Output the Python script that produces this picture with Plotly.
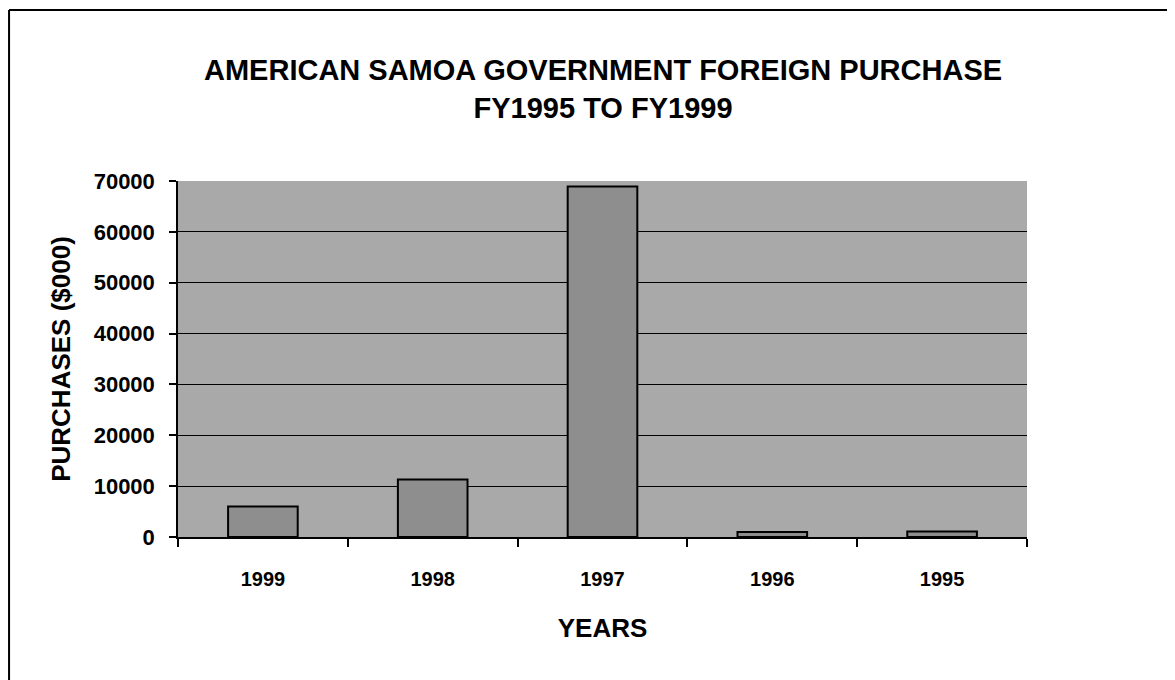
import plotly.graph_objects as go

years = ["1999", "1998", "1997", "1996", "1995"]
purchases = [6000, 11300, 68900, 1000, 1100]
y_ticks = [0, 10000, 20000, 30000, 40000, 50000, 60000, 70000]
title_line1 = "AMERICAN SAMOA GOVERNMENT FOREIGN PURCHASE"
title_line2 = "FY1995 TO FY1999"

FONT = "Liberation Sans, Arial, sans-serif"

fig = go.Figure(
    go.Bar(
        x=years,
        y=purchases,
        width=0.41,
        marker=dict(color="#8e8e8e", line=dict(color="black", width=2)),
    )
)

# page has 8px default body margin; compensate
fig.update_layout(
    width=1167,
    height=672,
    margin=dict(l=170, r=148, t=173, b=143),
    paper_bgcolor="white",
    plot_bgcolor="#a9a9a9",
    showlegend=False,
    font=dict(family=FONT, color="black"),
    annotations=[
        dict(text="<b>" + title_line1 + "<br>" + title_line2 + "</b>",
             xref="paper", yref="paper",
             x=0.5, y=1 + (181 - 89) / 356, xanchor="center", yanchor="middle",
             showarrow=False, font=dict(family=FONT, size=29, color="black")),
    ],
    shapes=[
        dict(type="line", xref="paper", yref="paper",
             x0=-0.199, x1=-0.199, y0=1.4803, y1=-0.45,
             line=dict(color="black", width=2)),
        dict(type="line", xref="paper", yref="paper",
             x0=-0.199, x1=1.2, y0=1.4803, y1=1.4803,
             line=dict(color="black", width=2)),
    ],
)

fig.update_xaxes(
    type="category",
    showline=True, linecolor="black", linewidth=1.5,
    ticks="outside", tickson="boundaries", ticklen=8, tickcolor="black", tickwidth=1.5,
    tickfont=dict(family=FONT, size=20, color="black", weight="bold"),
    ticklabelstandoff=23,
    showgrid=False,
    title=dict(text="<b>YEARS</b>", font=dict(family=FONT, size=26, color="black"), standoff=30),
)

fig.update_yaxes(
    range=[0, 70000],
    tickvals=y_ticks,
    ticktext=[str(v) for v in y_ticks],
    showline=True, linecolor="black", linewidth=1.5,
    ticks="outside", ticklen=7, tickcolor="black", tickwidth=1.5,
    tickfont=dict(family=FONT, size=22, color="black", weight="bold"),
    ticklabelstandoff=10,
    showgrid=True, gridcolor="black", gridwidth=1,
    zeroline=False,
    title=dict(text="<b>PURCHASES ($000)</b>", font=dict(family=FONT, size=26, color="black"), standoff=16),
)

fig.write_html("out.html")
